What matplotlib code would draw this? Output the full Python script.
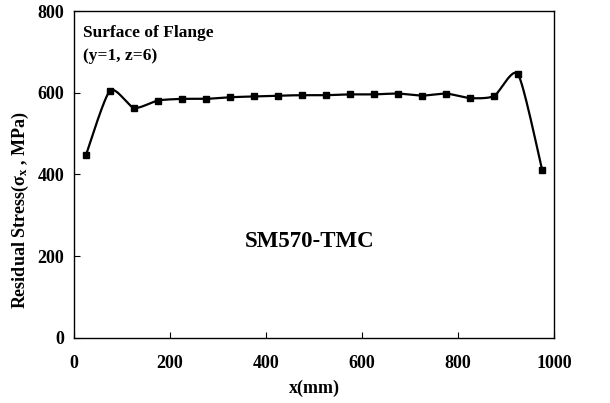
import numpy as np
import matplotlib
matplotlib.use("Agg")
import matplotlib.pyplot as plt

# Residual stress along the flange surface
x_mm = [25, 75, 125, 175, 225, 275, 325, 375, 425, 475,
        525, 575, 625, 675, 725, 775, 825, 875, 925, 975]
stress = [448, 605, 563, 581, 585, 585, 589, 591, 593, 594,
          594, 596, 596, 598, 593, 598, 587, 592, 645, 412]

x_ticks = [0, 200, 400, 600, 800, 1000]
y_ticks = [0, 200, 400, 600, 800]


def smooth_curve(xs, ys, n=30, k=0.35):
    """Cardinal spline through the points (mildly smoothed line)."""
    xs = np.asarray(xs, float)
    ys = np.asarray(ys, float)
    px = np.concatenate([[xs[0]], xs, [xs[-1]]])
    py = np.concatenate([[ys[0]], ys, [ys[-1]]])
    t = np.linspace(0, 1, n)
    h00 = 2 * t**3 - 3 * t**2 + 1
    h10 = t**3 - 2 * t**2 + t
    h01 = -2 * t**3 + 3 * t**2
    h11 = t**3 - t**2
    out_x, out_y = [], []
    for i in range(1, len(px) - 2):
        for p, out in ((px, out_x), (py, out_y)):
            m1 = k * (p[i + 1] - p[i - 1])
            m2 = k * (p[i + 2] - p[i])
            out.extend(h00 * p[i] + h10 * m1 + h01 * p[i + 1] + h11 * m2)
    return np.array(out_x), np.array(out_y)


plt.rcParams['font.family'] = ['Liberation Serif', 'DejaVu Serif']
plt.rcParams['font.weight'] = 'bold'
plt.rcParams['mathtext.fontset'] = 'custom'
plt.rcParams['mathtext.rm'] = 'Liberation Serif:bold'
plt.rcParams['mathtext.bf'] = 'Liberation Serif:bold'
plt.rcParams['mathtext.it'] = 'Liberation Serif:bold'

fig = plt.figure(figsize=(6.10, 4.03), dpi=100)
ax = fig.add_axes([0.1213, 0.1613, 0.787, 0.8114])

cx, cy = smooth_curve(x_mm, stress)
ax.plot(cx, cy, color='black', lw=1.6)
ax.plot(x_mm, stress, linestyle='none', marker='s', ms=5,
        color='black')

ax.set_xlim(0, 1000)
ax.set_ylim(0, 800)
ax.set_xticks(x_ticks)
ax.set_yticks(y_ticks)
ax.tick_params(direction='in', length=4, width=0.8, labelsize=13)
ax.tick_params(axis='x', pad=12)
ax.tick_params(axis='y', pad=7)
for lab in ax.get_xticklabels() + ax.get_yticklabels():
    lab.set_fontweight('bold')
for s in ax.spines.values():
    s.set_linewidth(1.0)

ax.set_xlabel('x(mm)', fontsize=13, fontweight='bold', labelpad=6)
ax.set_ylabel(r'Residual Stress($\mathrm{\sigma_x}$ , MPa)', fontsize=13,
              fontweight='bold')
ax.yaxis.set_label_coords(-0.09, 0.39)

ax.text(0.018, 0.958, 'Surface of Flange', transform=ax.transAxes,
        fontsize=12.5, fontweight='bold', va='top', ha='left')
ax.text(0.018, 0.888, '(y=1, z=6)', transform=ax.transAxes,
        fontsize=12.5, fontweight='bold', va='top', ha='left')
ax.text(0.49, 0.294, 'SM570-TMC', transform=ax.transAxes,
        fontsize=16.5, fontweight='bold', va='center', ha='center')

fig.savefig('out.png', dpi=100)
